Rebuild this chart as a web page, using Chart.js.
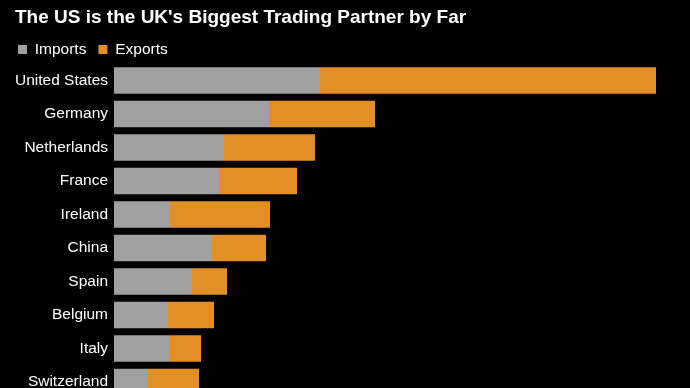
<!DOCTYPE html>
<html>
<head>
<meta charset="utf-8">
<script src="https://cdn.jsdelivr.net/npm/chart.js@4/dist/chart.umd.min.js"></script>
<style>
  html, body { margin: 0; padding: 0; background: #000; overflow: hidden; width: 690px; height: 388px; }
  #title { position: absolute; left: 15px; top: 5px; line-height: 23px; font-family: "Liberation Sans", Arial, sans-serif; font-weight: bold; font-size: 19px; color: #fff; white-space: nowrap; z-index: 2; }
  #wrap { position: absolute; left: 0; top: 0; width: 690px; height: 400px; }
</style>
</head>
<body>
<div id="title">The US is the UK's Biggest Trading Partner by Far</div>
<div id="wrap"><canvas id="c" width="690" height="400"></canvas></div>
<script>
const categories = ["United States", "Germany", "Netherlands", "France", "Ireland", "China", "Spain", "Belgium", "Italy", "Switzerland"];
const imports = [206, 155, 110, 105, 56, 98, 78, 54, 55, 34];
const exports = [336, 106, 91, 78, 100, 54, 35, 46, 32, 51];
const seriesNames = ["Imports", "Exports"];
const axisMax = 576;

const FONT = "'Liberation Sans', Arial, sans-serif";

const legendShrink = {
  id: 'legendShrink',
  beforeUpdate(chart) {
    if (chart.legend && !chart.legend._patched) {
      const fit = chart.legend.fit;
      chart.legend.fit = function () { fit.call(this); this.height -= 3.5; };
      chart.legend._patched = true;
    }
  }
};

new Chart(document.getElementById('c'), {
  type: 'bar',
  data: {
    labels: categories,
    datasets: [
      { label: seriesNames[0], data: imports, backgroundColor: '#a0a0a0', borderWidth: 0 },
      { label: seriesNames[1], data: exports, backgroundColor: '#e38f26', borderWidth: 0 }
    ]
  },
  options: {
    indexAxis: 'y',
    responsive: false,
    animation: false,
    layout: { padding: { left: 6, top: 29.75, right: 0, bottom: 1.25 } },
    datasets: { bar: { categoryPercentage: 1, barPercentage: 0.79 } },
    scales: {
      x: { stacked: true, display: false, min: 0, max: axisMax },
      y: {
        stacked: true,
        grid: { display: false, drawTicks: false },
        border: { display: false },
        ticks: { color: '#ffffff', padding: 6, font: { family: FONT, size: 15.5 } },
        afterFit(scale) { scale.width = 108; scale.paddingTop = 0; scale.paddingBottom = 0; }
      }
    },
    plugins: {
      title: { display: false },
      tooltip: { enabled: false },
      legend: {
        display: true,
        position: 'top',
        align: 'start',
        labels: {
          color: '#ffffff',
          boxWidth: 9,
          boxHeight: 9,
          padding: 12,
          font: { family: FONT, size: 15.5 }
        }
      }
    }
  },
  plugins: [legendShrink]
});
</script>
</body>
</html>
